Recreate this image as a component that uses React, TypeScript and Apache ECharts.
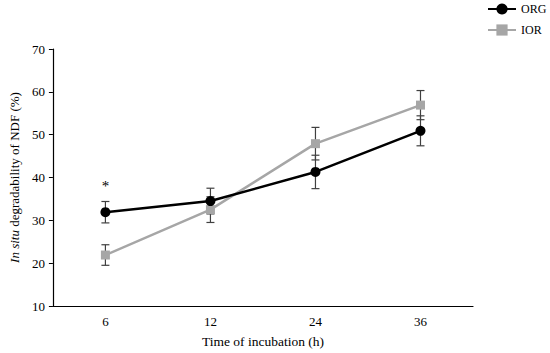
import React, { useEffect, useRef } from "react";
import * as echarts from "echarts";

const categories = ["6", "12", "24", "36"];
const orgMean = [31.9, 34.5, 41.3, 50.9];
const orgErr = [2.5, 3.0, 3.9, 3.5];
const iorMean = [21.9, 32.5, 47.9, 56.9];
const iorErr = [2.4, 3.0, 3.8, 3.4];
const sigIndex = [0];
const sigLevel = [38.0];
const yTicks = { min: 10, max: 70, interval: 10 };

const FONT = "Liberation Serif";

export default function App() {
  const ref = useRef<HTMLDivElement>(null);
  useEffect(() => {
    if (!ref.current) return;
    const chart = echarts.init(ref.current, null, { renderer: "svg" });
    const errData = (mean: number[], err: number[]) =>
      mean.map((m, i) => [i, m - err[i], m + err[i]]);
    const renderErr = (params: any, api: any) => {
      const x = api.value(0);
      const lo = api.coord([x, api.value(1)]);
      const hi = api.coord([x, api.value(2)]);
      const w = 4;
      const style = { stroke: "#404040", lineWidth: 1.2 };
      return {
        type: "group",
        children: [
          { type: "line", shape: { x1: lo[0], y1: lo[1], x2: hi[0], y2: hi[1] }, style },
          { type: "line", shape: { x1: lo[0] - w, y1: lo[1], x2: lo[0] + w, y2: lo[1] }, style },
          { type: "line", shape: { x1: hi[0] - w, y1: hi[1], x2: hi[0] + w, y2: hi[1] }, style },
        ],
      };
    };
    chart.setOption({
      animation: false,
      textStyle: { fontFamily: FONT },
      grid: { left: 47, right: 77, top: 49, bottom: 45 },
      legend: {
        data: ["ORG", "IOR"],
        orient: "vertical",
        left: 487,
        top: 3,
        itemWidth: 28,
        itemHeight: 14,
        itemGap: 9,
        padding: 0,
        textStyle: { fontFamily: FONT, fontSize: 12, color: "#000" },
      },
      xAxis: {
        type: "category",
        data: categories,
        boundaryGap: true,
        name: "Time of incubation (h)",
        nameLocation: "middle",
        nameGap: 28,
        nameTextStyle: { fontFamily: FONT, fontSize: 13.5, color: "#000" },
        axisLine: { lineStyle: { color: "#000", width: 1.2 } },
        axisTick: { alignWithLabel: true, length: 4, lineStyle: { color: "#000" } },
        axisLabel: { fontFamily: FONT, fontSize: 13, color: "#000", margin: 9 },
        splitLine: { show: false },
      },
      yAxis: {
        type: "value",
        min: yTicks.min,
        max: yTicks.max,
        interval: yTicks.interval,
        name: "{i|In situ} degradability of NDF (%)",
        nameLocation: "middle",
        nameGap: 30,
        nameTextStyle: {
          fontFamily: FONT,
          fontSize: 13,
          color: "#000",
          rich: { i: { fontStyle: "italic", fontFamily: FONT, fontSize: 13, color: "#000" } },
        },
        axisLine: { show: true, lineStyle: { color: "#000", width: 1.2 } },
        axisTick: { show: true, length: 4, lineStyle: { color: "#000" } },
        axisLabel: { fontFamily: FONT, fontSize: 13, color: "#000", margin: 8 },
        splitLine: { show: false },
      },
      series: [
        {
          type: "custom",
          name: "ORG err",
          renderItem: renderErr,
          data: errData(orgMean, orgErr),
          encode: { x: 0, y: [1, 2] },
          z: 1,
          silent: true,
        },
        {
          type: "custom",
          name: "IOR err",
          renderItem: renderErr,
          data: errData(iorMean, iorErr),
          encode: { x: 0, y: [1, 2] },
          z: 1,
          silent: true,
        },
        {
          type: "line",
          name: "ORG",
          data: orgMean,
          symbol: "circle",
          symbolSize: 10,
          itemStyle: { color: "#000" },
          lineStyle: { color: "#000", width: 2.5 },
          z: 3,
          markPoint: {
            symbol: "circle",
            symbolSize: 1,
            itemStyle: { color: "transparent" },
            label: {
              show: true,
              formatter: "*",
              position: "inside",
              fontFamily: FONT,
              fontSize: 15,
              color: "#000",
            },
            data: sigIndex.map((idx, k) => ({ coord: [idx, sigLevel[k]] })),
          },
        },
        {
          type: "line",
          name: "IOR",
          data: iorMean,
          symbol: "rect",
          symbolSize: 9,
          itemStyle: { color: "#a6a6a6" },
          lineStyle: { color: "#a6a6a6", width: 2.5 },
          z: 2,
        },
      ],
    });
    return () => chart.dispose();
  }, []);
  return <div ref={ref} style={{ width: 550, height: 353, position: "absolute", left: 0, top: 0 }} />;
}
